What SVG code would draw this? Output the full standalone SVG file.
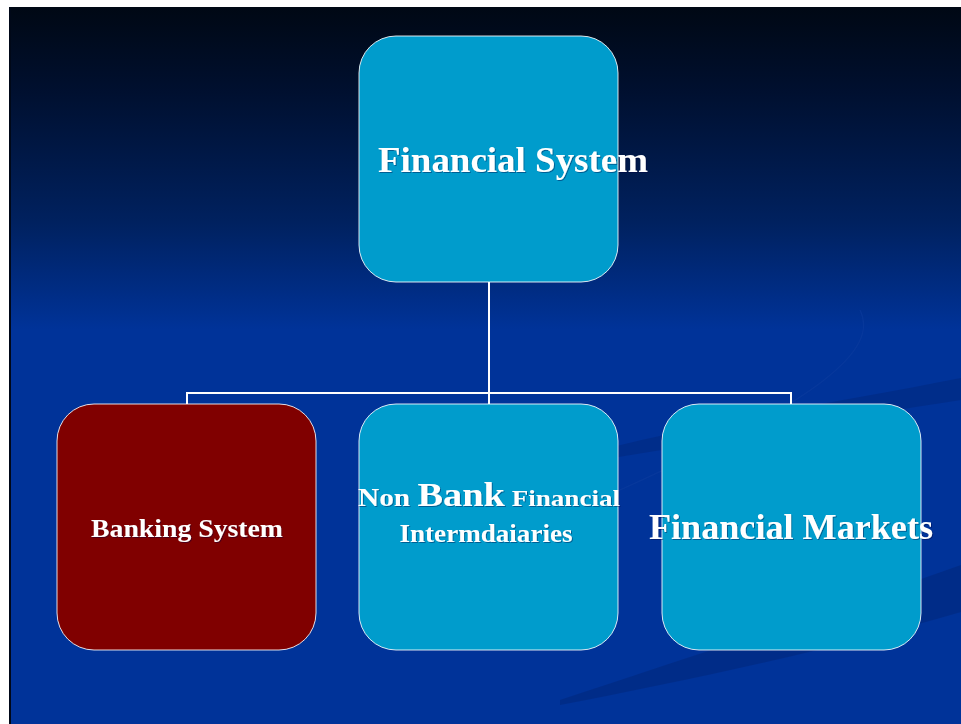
<svg xmlns="http://www.w3.org/2000/svg" width="961" height="724" viewBox="0 0 961 724">
  <defs>
    <linearGradient id="bg" x1="0" y1="0" x2="0" y2="1" gradientUnits="objectBoundingBox">
      <stop offset="0" stop-color="#000814"/>
      <stop offset="0.12" stop-color="#001030"/>
      <stop offset="0.3" stop-color="#00215f"/>
      <stop offset="0.45" stop-color="#003399"/>
      <stop offset="1" stop-color="#003399"/>
    </linearGradient>
    <filter id="sh" x="-10%" y="-30%" width="120%" height="160%">
      <feDropShadow dx="1" dy="1" stdDeviation="0.6" flood-color="#001040" flood-opacity="0.4"/>
    </filter>
  </defs>
  <style>
    .box { stroke: #ffffff; stroke-width: 1; stroke-opacity: 0.85; }
    .teal { fill: #009ccc; }
    .red { fill: #800000; }
    .lbl { font-family: "Liberation Serif", "Times New Roman", serif; font-weight: bold; fill: #ffffff; text-anchor: middle; filter: url(#sh); }
    .conn { fill: none; stroke: #ffffff; stroke-width: 2; }
  </style>
  <rect x="0" y="0" width="961" height="724" fill="#ffffff"/>
  <rect x="9" y="7" width="952" height="717" fill="url(#bg)"/>
  <rect x="9" y="7" width="2" height="717" fill="#000818"/>
  <g id="swooshes">
    <path d="M600,450 C720,420 850,400 961,378 L961,400 C860,415 730,440 600,460 Z" fill="#002a80" opacity="0.6"/>
    <path d="M560,700 C680,660 820,615 961,565 L961,612 C830,650 690,680 560,705 Z" fill="#002a80" opacity="0.65"/>
    <path d="M860,310 C880,350 820,400 620,490" fill="none" stroke="#0d3ea0" stroke-width="1.2" opacity="0.5"/>
  </g>
  <g id="connectors">
    <path class="conn" d="M489,282 V393"/>
    <path class="conn" d="M187,404 V393 H791 V404"/>
    <path class="conn" d="M489,393 V404"/>
  </g>
  <g id="node-financial-system">
    <rect class="box teal" x="359" y="36" width="259" height="246" rx="37" ry="37"/>
    <text class="lbl" x="513" y="172" font-size="35" textLength="270" lengthAdjust="spacingAndGlyphs">Financial System</text>
  </g>
  <g id="node-banking-system">
    <rect class="box red" x="57" y="404" width="259" height="246" rx="37" ry="37"/>
    <text class="lbl" x="187" y="537" font-size="26" textLength="192" lengthAdjust="spacingAndGlyphs">Banking System</text>
  </g>
  <g id="node-nbfi">
    <rect class="box teal" x="359" y="404" width="259" height="246" rx="37" ry="37"/>
    <text class="lbl" x="489" y="506" textLength="262" lengthAdjust="spacingAndGlyphs"><tspan font-size="26">Non </tspan><tspan font-size="34">Bank</tspan><tspan font-size="24"> Financial</tspan></text>
    <text class="lbl" x="486" y="542" font-size="26" textLength="173" lengthAdjust="spacingAndGlyphs">Intermdaiaries</text>
  </g>
  <g id="node-financial-markets">
    <rect class="box teal" x="662" y="404" width="259" height="246" rx="37" ry="37"/>
    <text class="lbl" x="791" y="539" font-size="35" textLength="284" lengthAdjust="spacingAndGlyphs">Financial Markets</text>
  </g>
</svg>
